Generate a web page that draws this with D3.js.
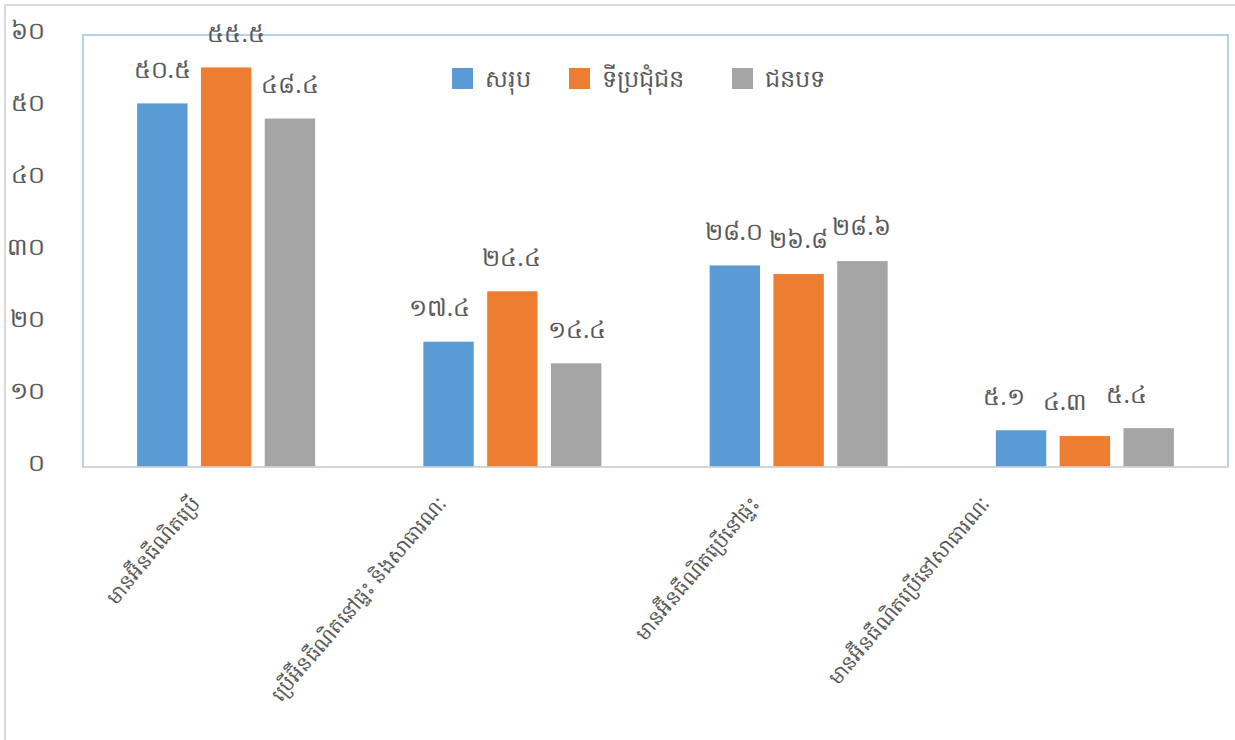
<!DOCTYPE html>
<html>
<head>
<meta charset="utf-8">
<script src="https://cdn.jsdelivr.net/npm/d3@7"></script>
<style>
html,body{margin:0;padding:0;background:#fff;}
svg{display:block;font-family:"Noto Sans","DejaVu Sans",sans-serif;}
</style>
</head>
<body>
<svg id="chart" width="1235" height="740"></svg>
<script>
const categories = ["មានអ៊ីនធឺណិតប្រើ", "ប្រើអ៊ីនធឺណិតនៅផ្ទះ និងសាធារណៈ", "មានអ៊ីនធឺណិតប្រើនៅផ្ទះ", "មានអ៊ីនធឺណិតប្រើនៅសាធារណៈ"];
const seriesNames = ["សរុប", "ទីប្រជុំជន", "ជនបទ"];
const totalValues = [50.5, 17.4, 28.0, 5.1];
const urbanValues = [55.5, 24.4, 26.8, 4.3];
const ruralValues = [48.4, 14.4, 28.6, 5.4];
const yTicks = [0, 10, 20, 30, 40, 50, 60];
const colors = ["#5b9bd5", "#ed7d31", "#a5a5a5"];

const khmerDigits = "០១២៣៤៥៦៧៨៩";
const toKhmer = s => String(s).replace(/[0-9]/g, d => khmerDigits[+d]);

const seriesValues = [totalValues, urbanValues, ruralValues];
const data = categories.map((c, i) => ({cat: c, vals: seriesValues.map((v, j) => ({s: j, v: v[i]}))}));

const svg = d3.select("#chart");
const plot = {left: 83, right: 1228, top: 35, bottom: 467};

// outer chart border
svg.append("rect").attr("x", 5).attr("y", 5).attr("width", 1240).attr("height", 760)
  .attr("fill", "#fff").attr("stroke", "#d9d9d9").attr("stroke-width", 2);

const x0 = d3.scaleBand().domain(categories).range([plot.left, plot.right]).paddingInner(0.378).paddingOuter(0.189);
const x1 = d3.scaleBand().domain([0, 1, 2]).range([0, x0.bandwidth()]).paddingInner(0.21);
const y = d3.scaleLinear().domain([0, 60]).range([plot.bottom, plot.top]);

// plot area border
svg.append("rect").attr("x", plot.left).attr("y", plot.top)
  .attr("width", plot.right - plot.left).attr("height", plot.bottom - plot.top)
  .attr("fill", "none").attr("stroke", "#9dc3e6").attr("stroke-width", 1.5);

// y axis labels
const yAxis = d3.axisLeft(y).tickValues(yTicks).tickSize(0).tickPadding(0).tickFormat(d => toKhmer(d));
const gy = svg.append("g").attr("transform", "translate(45,-4)").call(yAxis);
gy.select(".domain").remove();
gy.selectAll("text").attr("fill", "#595959").style("font-size", "24px");

// bars
const groups = svg.append("g").selectAll("g").data(data).join("g")
  .attr("transform", d => `translate(${x0(d.cat)},0)`);
groups.selectAll("rect").data(d => d.vals).join("rect")
  .attr("x", d => x1(d.s)).attr("width", x1.bandwidth())
  .attr("y", d => y(d.v)).attr("height", d => y(0) - y(d.v))
  .attr("fill", d => colors[d.s]);

// x axis line
svg.append("line").attr("x1", plot.left).attr("x2", plot.right)
  .attr("y1", plot.bottom).attr("y2", plot.bottom)
  .attr("stroke", "#d9d9d9").attr("stroke-width", 1.5);

// data labels
const labelNudge = [[0, 10, 0], [-9, -1, 1], [-1, 0, -1], [-17, -20, -22]];
groups.each(function(d, gi) {
  d3.select(this).selectAll("text.lbl").data(d.vals).join("text").attr("class", "lbl")
    .attr("x", v => x1(v.s) + x1.bandwidth() / 2 + labelNudge[gi][v.s])
    .attr("y", v => y(v.v) - 34)
    .attr("dy", "0.35em")
    .attr("text-anchor", "middle")
    .attr("fill", "#595959").style("font-size", "24px")
    .text(v => toKhmer(v.v.toFixed(1)));
});

// x category labels (rotated)
const xLabelShift = [-25, -65, -38, -94];
svg.append("g").selectAll("text").data(categories).join("text")
  .attr("transform", (c, i) => `translate(${x0(c) + x0.bandwidth() / 2 + xLabelShift[i]},${plot.bottom + 37}) rotate(-50)`)
  .attr("text-anchor", "end")
  .attr("fill", "#595959").style("font-size", "20px")
  .text(c => c);

// legend
const legend = svg.append("g").attr("transform", "translate(452,68)");
const legendX = [0, 117, 280];
seriesNames.forEach((n, i) => {
  const g = legend.append("g").attr("transform", `translate(${legendX[i]},0)`);
  g.append("rect").attr("width", 21).attr("height", 21).attr("fill", colors[i]);
  g.append("text").attr("x", 33).attr("y", 11).attr("dy", "0.35em")
    .attr("fill", "#595959").style("font-size", "24px").text(n);
});
</script>
</body>
</html>
